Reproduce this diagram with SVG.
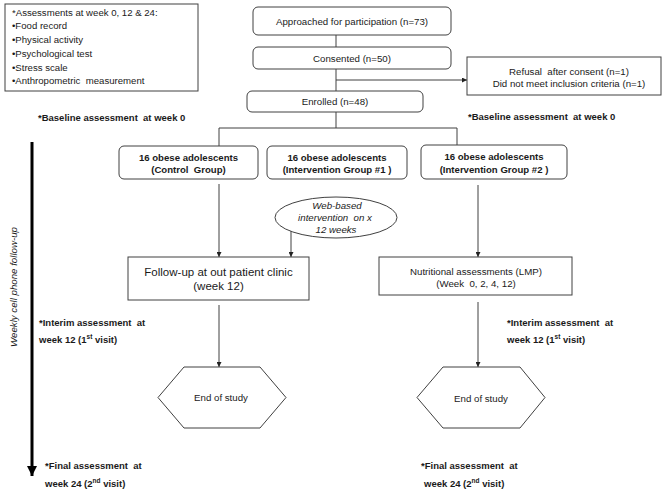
<svg xmlns="http://www.w3.org/2000/svg" width="666" height="493" viewBox="0 0 666 493">
<defs>
<marker id="ah" viewBox="0 0 10 10" refX="10" refY="5" markerWidth="5" markerHeight="5" orient="auto" markerUnits="userSpaceOnUse">
<path d="M0,0 L10,5 L0,10 z" fill="#222"/>
</marker>
<marker id="bigah" viewBox="0 0 10 10" refX="10" refY="5" markerWidth="10" markerHeight="10" orient="auto" markerUnits="userSpaceOnUse">
<path d="M0,0 L10,5 L0,10 z" fill="#000"/>
</marker>
</defs>
<style>
text{font-family:"Liberation Sans",Arial,sans-serif;fill:#1a1a1a;white-space:pre}
.n{font-size:9.7px;text-anchor:middle}
.b{font-size:9.6px;font-weight:bold;text-anchor:middle}
.lab{font-size:9.5px;font-weight:bold}
.box{fill:#fff;stroke:#404040;stroke-width:1}
.ln{fill:none;stroke:#404040;stroke-width:1}
.arr{fill:none;stroke:#404040;stroke-width:1;marker-end:url(#ah)}
</style>
<rect width="666" height="493" fill="#fff"/>

<g id="assessments">
<rect class="box" x="5" y="4" width="193" height="87"/>
<text x="12" y="15.5" style="font-size:9.6px">*Assessments at week 0, 12 &amp; 24:</text>
<text x="12" y="29" style="font-size:9.6px">•Food record</text>
<text x="12" y="43" style="font-size:9.6px">•Physical activity</text>
<text x="12" y="57" style="font-size:9.6px">•Psychological test</text>
<text x="12" y="70.5" style="font-size:9.6px">•Stress scale</text>
<text x="12" y="84" style="font-size:9.6px">•Anthropometric  measurement</text>
</g>

<g id="connectors">
<line class="ln" x1="336" y1="35" x2="336" y2="47"/>
<line class="ln" x1="336" y1="69" x2="336" y2="91"/>
<line class="arr" x1="336" y1="80" x2="467" y2="80"/>
<line class="ln" x1="336" y1="112" x2="336" y2="128"/>
<polyline class="ln" points="219,146 219,128 457,128 457,145"/>
<line class="arr" x1="219" y1="184" x2="219" y2="257"/>
<line class="arr" x1="291" y1="231" x2="291" y2="257"/>
<line class="arr" x1="478" y1="185" x2="478" y2="257"/>
<line class="arr" x1="219" y1="305" x2="219" y2="367"/>
<line class="arr" x1="478" y1="302" x2="478" y2="367"/>
<line x1="32" y1="142" x2="32" y2="476" stroke="#000" stroke-width="3" marker-end="url(#bigah)"/>
</g>

<g id="approached">
<rect class="box" x="253" y="7" width="198" height="28" rx="5"/>
<text class="n" x="352" y="25">Approached for participation (n=73)</text>
</g>

<g id="consented">
<rect class="box" x="253" y="47" width="198" height="22" rx="5"/>
<text class="n" x="352" y="61.5">Consented (n=50)</text>
</g>

<g id="refusal">
<rect class="box" x="467" y="57" width="194" height="38"/>
<text class="n" x="569" y="75">Refusal  after consent (n=1)</text>
<text class="n" x="569" y="87">Did not meet inclusion criteria (n=1)</text>
</g>

<g id="enrolled">
<rect class="box" x="247" y="91" width="176" height="21" rx="5"/>
<text class="n" x="335" y="105">Enrolled (n=48)</text>
</g>

<g id="baseline-left">
<text class="lab" x="38" y="120.5">*Baseline assessment  at week 0</text>
</g>
<g id="baseline-right">
<text class="lab" x="468" y="120">*Baseline assessment  at week 0</text>
</g>

<g id="control">
<rect class="box" x="119" y="146" width="139" height="33" rx="5"/>
<text class="b" x="188.5" y="160.5">16 obese adolescents</text>
<text class="b" x="188.5" y="173">(Control  Group)</text>
</g>

<g id="intervention1">
<rect class="box" x="267" y="146" width="140" height="33" rx="5"/>
<text class="b" x="337" y="160.5">16 obese adolescents</text>
<text class="b" x="337" y="173">(Intervention Group #1 )</text>
</g>

<g id="intervention2">
<rect class="box" x="421" y="145" width="146" height="34" rx="5"/>
<text class="b" x="494" y="160">16 obese adolescents</text>
<text class="b" x="494" y="172.5">(Intervention Group #2 )</text>
</g>

<g id="web">
<ellipse class="box" cx="336" cy="217.5" rx="61" ry="20.5"/>
<text class="n" x="337" y="208.5" style="font-style:italic">Web-based</text>
<text class="n" x="335" y="220.5" style="font-style:italic">intervention  on x</text>
<text class="n" x="336" y="232.5" style="font-style:italic">12 weeks</text>
</g>

<g id="followup">
<rect class="box" x="128" y="257" width="181" height="43"/>
<text x="218.5" y="276" style="font-size:11.5px;text-anchor:middle">Follow-up at out patient clinic</text>
<text x="218.5" y="290" style="font-size:11.5px;text-anchor:middle">(week 12)</text>
</g>

<g id="nutritional">
<rect class="box" x="379" y="257" width="193" height="38"/>
<text class="n" x="476" y="274.5">Nutritional assessments (LMP)</text>
<text class="n" x="476" y="286.5">(Week  0, 2, 4, 12)</text>
</g>

<g id="interim-left">
<text class="lab" x="39" y="325.5">*Interim assessment  at</text>
<text class="lab" x="39" y="342.5">week 12 (1<tspan dy="-3.5" style="font-size:6.5px">st</tspan><tspan dy="3.5"> visit)</tspan></text>
</g>
<g id="interim-right">
<text class="lab" x="507" y="325.5">*Interim assessment  at</text>
<text class="lab" x="507" y="342.5">week 12 (1<tspan dy="-3.5" style="font-size:6.5px">st</tspan><tspan dy="3.5"> visit)</tspan></text>
</g>

<g id="end-left">
<polygon class="box" points="184,367 260,367 286,397.5 260,428 184,428 158,397.5"/>
<text class="n" x="221" y="401">End of study</text>
</g>
<g id="end-right">
<polygon class="box" points="443,367 520,367 545,397.5 520,428 443,428 417,397.5"/>
<text class="n" x="481" y="401.5">End of study</text>
</g>

<g id="final-left">
<text class="lab" x="45" y="468.5">*Final assessment  at</text>
<text class="lab" x="45" y="486.5">week 24 (2<tspan dy="-3.5" style="font-size:6.5px">nd</tspan><tspan dy="3.5"> visit)</tspan></text>
</g>
<g id="final-right">
<text class="lab" x="421" y="468.5">*Final assessment  at</text>
<text class="lab" x="424" y="486.5">week 24 (2<tspan dy="-3.5" style="font-size:6.5px">nd</tspan><tspan dy="3.5"> visit)</tspan></text>
</g>

<g id="weekly">
<text transform="translate(16.5,287) rotate(-90)" style="font-size:9.7px;font-style:italic;text-anchor:middle">Weekly cell phone follow-up</text>
</g>
</svg>
